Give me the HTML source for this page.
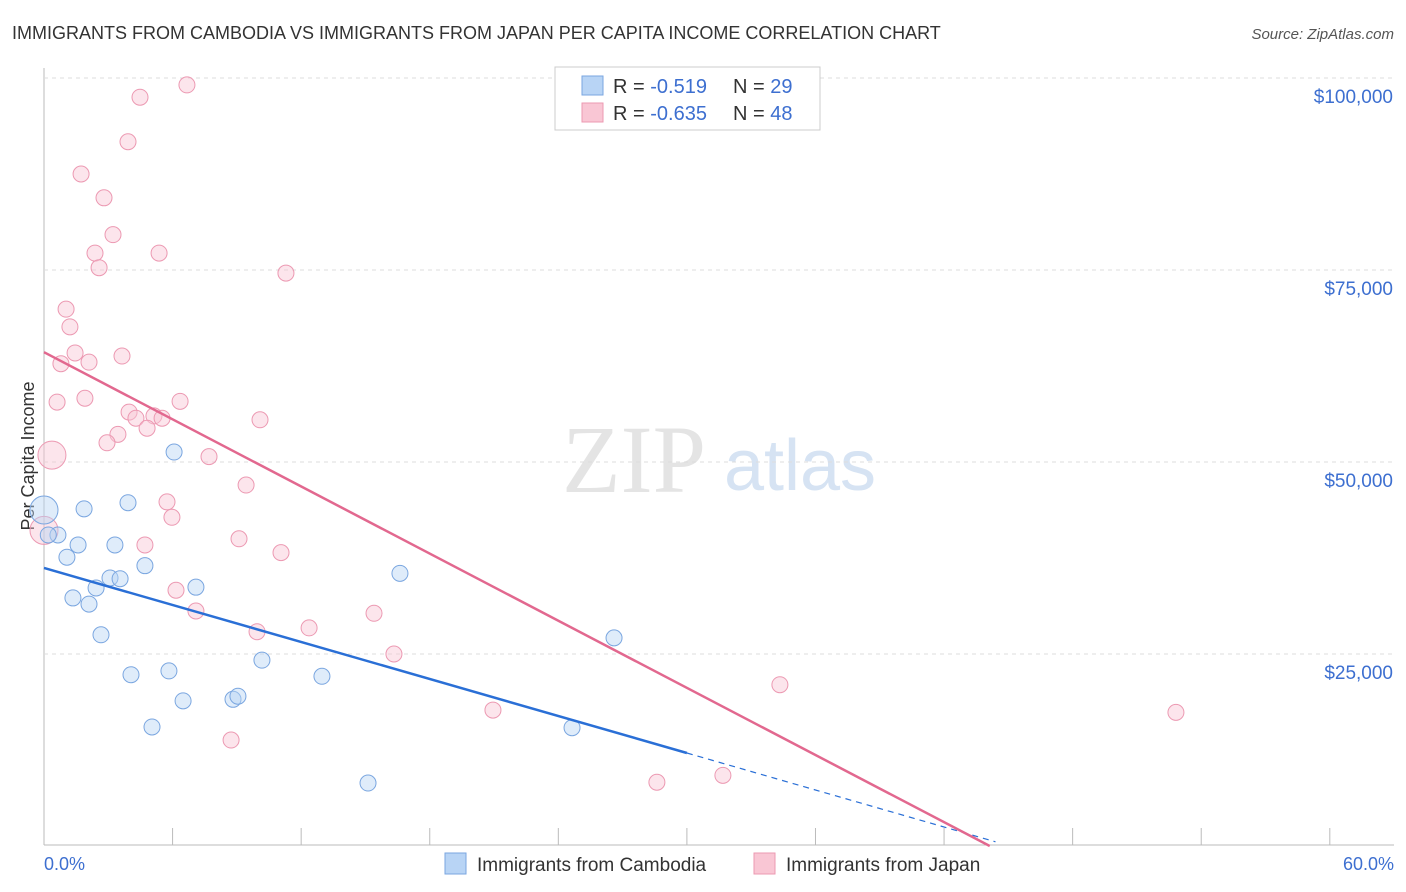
<!DOCTYPE html>
<html><head><meta charset="utf-8"><style>
body{margin:0;background:#fff;font-family:"Liberation Sans",sans-serif;}
#c{position:relative;width:1406px;height:892px;}
</style></head><body>
<div id="c">
<svg id="s" width="1406" height="892" style="position:absolute;left:0;top:0">
<text x="12" y="39" font-size="18" fill="#333">IMMIGRANTS FROM CAMBODIA VS IMMIGRANTS FROM JAPAN PER CAPITA INCOME CORRELATION CHART</text>
<text x="1394" y="39" font-size="15" fill="#555" font-style="italic" text-anchor="end">Source: ZipAtlas.com</text>
<text x="634" y="492" font-size="96" fill="#e4e4e4" font-family="Liberation Serif" text-anchor="middle">ZIP</text>
<text x="800" y="490" font-size="72" fill="#d6e3f3" text-anchor="middle">atlas</text>
<text transform="translate(34,456) rotate(-90)" font-size="18" fill="#333" text-anchor="middle">Per Capita Income</text>
<g id="grid"></g><g id="marks"></g>
<text x="44" y="870" font-size="18" fill="#3d6fd0">0.0%</text>
<text x="1394" y="870" font-size="18" fill="#3d6fd0" text-anchor="end">60.0%</text>
<g>
<rect x="555" y="67" width="265" height="63" fill="#fff" stroke="#ccc"/>
<rect x="582" y="76" width="21" height="19" fill="#b8d4f5" stroke="#7aa6e0"/>
<rect x="582" y="103" width="21" height="19" fill="#f9c6d4" stroke="#ec99b2"/>
<text x="613" y="93" font-size="20" fill="#333">R = <tspan fill="#3d6fd0">-0.519</tspan><tspan x="733">N = </tspan><tspan fill="#3d6fd0">29</tspan></text>
<text x="613" y="120" font-size="20" fill="#333">R = <tspan fill="#3d6fd0">-0.635</tspan><tspan x="733">N = </tspan><tspan fill="#3d6fd0">48</tspan></text>
</g>
<g>
<rect x="445" y="853" width="21" height="21" fill="#b8d4f5" stroke="#7aa6e0"/>
<text x="477" y="871" font-size="19" fill="#333">Immigrants from Cambodia</text>
<rect x="754" y="853" width="21" height="21" fill="#f9c6d4" stroke="#ec99b2"/>
<text x="786" y="871" font-size="19" fill="#333">Immigrants from Japan</text>
</g>
</svg>
</div>
<script>
const yTicks=[25,50,75,100];
const yTickLabels=["$25,000","$50,000","$75,000","$100,000"];
const camX=[0,0.65,1.07,1.59,1.87,1.35,2.1,2.43,2.66,3.08,3.31,3.55,3.92,4.06,4.71,5.04,5.83,6.07,6.49,7.09,8.82,9.05,10.17,12.97,15.12,16.61,24.64,26.6,0.2];
const camY=[43.75,40.5,37.6,39.2,43.9,32.3,31.5,33.6,27.5,34.9,39.2,34.8,44.7,22.3,36.5,15.5,22.8,51.3,18.9,33.7,19.1,19.5,24.2,22.1,8.2,35.5,15.4,27.1,40.5];
const jpX=[6.67,4.48,3.92,1.73,2.8,3.22,2.38,5.37,2.57,11.29,1.03,1.21,1.45,0.79,2.1,3.64,0.61,1.91,6.35,3.97,4.29,5.13,5.51,10.08,4.81,3.45,2.94,0.37,7.7,9.43,5.74,5.97,0,4.71,9.1,11.06,6.16,7.09,15.4,12.37,9.94,16.33,34.34,20.95,52.82,8.73,31.68,28.6];
const jpY=[99.1,97.5,91.7,87.5,84.4,79.6,77.2,77.2,75.3,74.6,69.9,67.6,64.2,62.8,63.0,63.8,57.8,58.3,57.9,56.5,55.7,56.0,55.7,55.5,54.4,53.6,52.5,50.9,50.7,47.0,44.8,42.8,41.1,39.2,40.0,38.2,33.3,30.6,30.3,28.4,27.9,25.0,21.0,17.7,17.4,13.8,9.2,8.3];
const camFit=[36.2,-0.803];
const jpFit=[64.3,-1.457];
const camBig=[0], jpBig=[27,32];
const NS="http://www.w3.org/2000/svg";
const X=v=>44+v*21.43, Y=v=>846-v*7.68;
function mk(tag,attrs,parent){const e=document.createElementNS(NS,tag);for(const k in attrs)e.setAttribute(k,attrs[k]);parent.appendChild(e);return e;}
const grid=document.getElementById('grid'), marks=document.getElementById('marks');
let ax=mk('line',{x1:44,y1:68,x2:44,y2:845,stroke:'#bbb'},grid);


let bx=mk('line',{x1:44,y1:845,x2:1394,y2:845,stroke:'#bbb'},grid);


for(let i=0;i<=10;i++){let t=mk('line',{x1:X(i*6),y1:828,x2:X(i*6),y2:845,stroke:'#bbb'},grid);

}
yTicks.forEach((v,i)=>{let g=mk('line',{x1:44,y1:Y(v),x2:1394,y2:Y(v),stroke:'#ddd','stroke-dasharray':'4,4'},grid);


let t=mk('text',{x:1393,y:Y(v)+25,'font-size':19,fill:'#3d6fd0','text-anchor':'end'},grid);t.textContent=yTickLabels[i];

});
function pts(xs,ys,big,fill,stroke,name){xs.forEach((x,i)=>{const b=big.includes(i);let c=mk('circle',{cx:X(x),cy:Y(ys[i]),r:b?14:8,fill:fill,'fill-opacity':0.45,stroke:stroke,'stroke-width':1},marks);

});}
pts(jpX,jpY,jpBig,'#f9c6d4','#ec99b2','japan-point');
pts(camX,camY,camBig,'#b8d4f5','#7aa6e0','cambodia-point');
const xEndC=30, xZeroC=44.4;
let l1=mk('line',{x1:X(0),y1:Y(camFit[0]),x2:X(xEndC),y2:Y(camFit[0]+camFit[1]*xEndC),stroke:'#2a6fd6','stroke-width':2.5},marks);


let l1d=mk('line',{x1:X(xEndC),y1:Y(camFit[0]+camFit[1]*xEndC),x2:X(xZeroC),y2:Y(camFit[0]+camFit[1]*xZeroC),stroke:'#2a6fd6','stroke-width':1.2,'stroke-dasharray':'6,5'},marks);


const xZeroJ=-jpFit[0]/jpFit[1];
let l2=mk('line',{x1:X(0),y1:Y(jpFit[0]),x2:X(xZeroJ),y2:Y(0),stroke:'#e2688f','stroke-width':2.5},marks);


</script>
</body></html>
